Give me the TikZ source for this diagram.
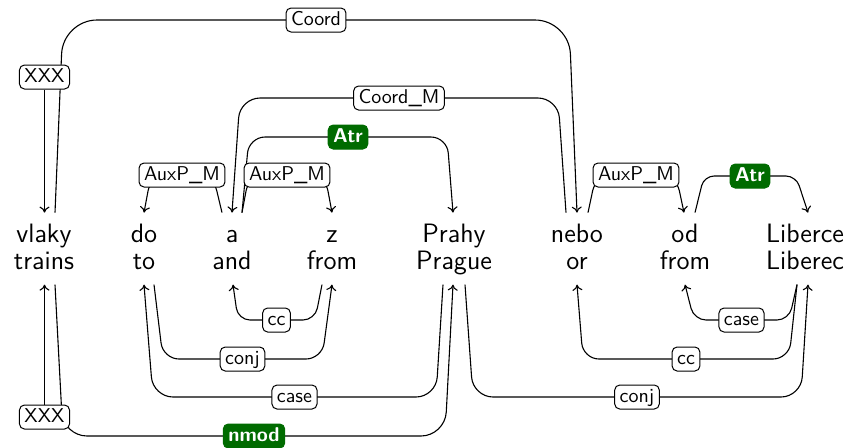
\documentclass[tikz,border=0pt]{standalone}
\usetikzlibrary{calc,arrows.meta}
\begin{document}
\begin{tikzpicture}[x=0.5pt,y=-0.5pt,
  word/.style={font=\fontsize{13.3}{13.8}\selectfont\sffamily, align=center, inner xsep=0pt, inner ysep=3.9pt},
  lab/.style={draw, fill=white, rounded corners=2.5pt, line width=0.5pt, font=\fontsize{10}{12}\selectfont\sffamily, inner xsep=2.5pt, inner ysep=1.5pt, text height=7.2pt, text depth=1.8pt},
  glab/.style={lab, draw=green!42!black, fill=green!42!black, text=white, font=\fontsize{10}{12}\selectfont\sffamily\bfseries},
  dep/.style={line width=0.55pt, rounded corners=8pt, -{To[length=3pt,width=5pt]}},
  plain/.style={line width=0.55pt, -{To[length=3pt,width=5pt]}}]
\useasboundingbox (0,0) rectangle (855,447);
\newcommand{\wa}{\rule{0pt}{10.6pt}}
\newcommand{\wb}{\rule[-3.4pt]{0pt}{3.4pt}}
\node[word] (vlaky)   at (44,248.6)  {\wa vlaky\\trains\wb};
\node[word] (do)      at (144,248.6) {\wa do\\to\wb};
\node[word] (a)       at (232,248.6) {\wa a\\and\wb};
\node[word] (z)       at (332,248.6) {\wa z\\from\wb};
\node[word] (prahy)   at (454,248.6) {\wa Prahy\\Prague\wb};
\node[word] (nebo)    at (577,248.6) {\wa nebo\\or\wb};
\node[word] (od)      at (685,248.6) {\wa od\\from\wb};
\node[word] (liberce) at (805,248.6) {\wa Liberce\\Liberec\wb};
% top edges
\draw[dep,rounded corners=17pt] ($(vlaky.north)+(11,0)$) -- (63,20) -- node[lab]{Coord} (569,20) -- (nebo.north);
\node[lab] (xt) at (44.5,77) {XXX};
\draw[plain] (xt.south) -- (xt.south |- vlaky.north);
\draw[dep,rounded corners=10pt] ($(nebo.north)+(-11,0)$) -- (558,98) -- node[lab]{Coord\_M} (240,98) -- (a.north);
\draw[dep] ($(a.north)+(10,0)$) -- (249,137) -- node[glab]{Atr} (447,137) -- ($(prahy.north)+(-1,0)$);
\draw[dep] ($(a.north)+(-10,0)$) -- (213,175) -- node[lab]{AuxP\_M} (151,175) -- (do.north);
\draw[dep] ($(a.north)+(10,0)$) -- (249,175) -- node[lab]{AuxP\_M} (325,175) -- (z.north);
\draw[dep] ($(nebo.north)+(11,0)$) -- (596,175) -- node[lab]{AuxP\_M} (676,175) -- ($(od.north)+(-1,0)$);
\draw[dep,rounded corners=5pt] ($(od.north)+(10,0)$) -- (704,176) -- node[glab]{Atr} (796,176) -- ($(liberce.north)+(3,0)$);
% bottom edges
\draw[dep,rounded corners=6pt] ($(z.south)+(-10,0)$) -- (315,320) -- node[lab]{cc} (238,320) -- ($(a.south)+(1,0)$);
\draw[dep] ($(do.south)+(10,0)$) -- (163,359) -- node[lab]{conj} (322,359) -- (z.south);
\draw[dep,rounded corners=10pt] ($(prahy.south)+(-11,0)$) -- (436,397) -- node[lab]{case} (153,397) -- (do.south);
\draw[dep,rounded corners=12pt] ($(vlaky.south)+(11,0)$) -- (63,436) -- node[glab]{nmod} (445,436) -- ($(prahy.south)+(-1,0)$);
\node[lab] (xb) at (44.5,417) {XXX};
\draw[plain] (xb.north) -- (xb.north |- vlaky.south);
\draw[dep,rounded corners=6pt] ($(liberce.south)+(-8,0)$) -- (789,320) -- node[lab]{case} (694,320) -- (od.south);
\draw[dep] ($(liberce.south)+(-8,0)$) -- (789,359) -- node[lab]{cc} (583,359) -- (nebo.south);
\draw[dep,rounded corners=10pt] ($(prahy.south)+(11,0)$) -- (473,397) -- node[lab]{conj} (801,397) -- ($(liberce.south)+(3,0)$);
\end{tikzpicture}
\end{document}
